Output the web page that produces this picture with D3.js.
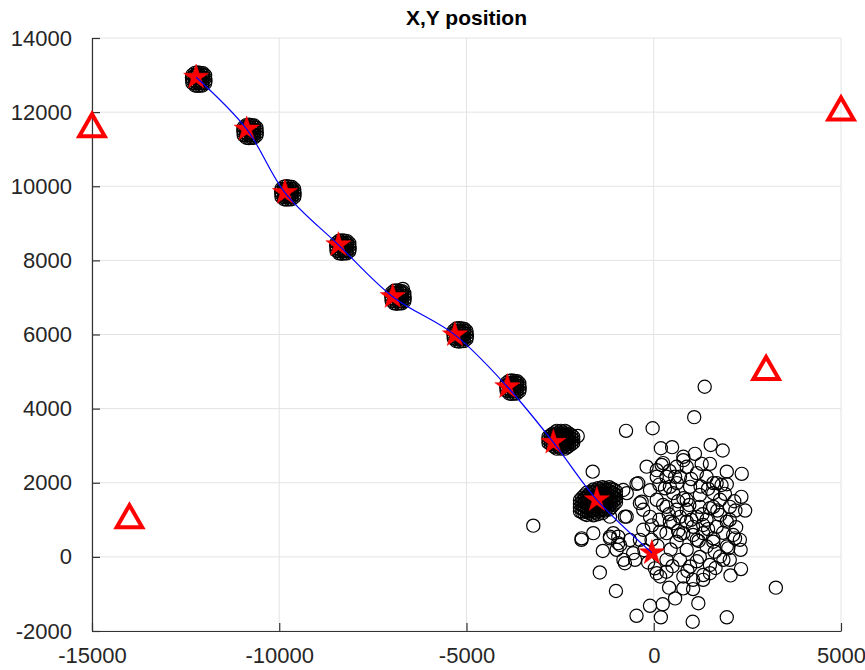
<!DOCTYPE html>
<html>
<head>
<meta charset="utf-8">
<script src="https://cdn.jsdelivr.net/npm/d3@7"></script>
<style>
  body { margin: 0; background: #fff; }
  svg { font-family: "Liberation Sans", Arial, sans-serif; }
</style>
</head>
<body>
<script>
   // DATA
   const title = "X,Y position";
   const xTicks = [-15000, -10000, -5000, 0, 5000];
   const yTicks = [-2000, 0, 2000, 4000, 6000, 8000, 10000, 12000, 14000];

   // red stars (estimated track points)
   const starX = [-12220, -10870, -9850, -8420, -6970, -5310, -3910, -2680, -1520, -50];
   const starY = [12940, 11540, 9830, 8420, 7020, 5990, 4590, 3090, 1540, 110];

   // red triangles (anchors)
   const anchorX = [-15000, -14000, 3000, 5000];
   const anchorY = [11550, 1000, 5000, 12000];

   // black circles, one array per cloud
   const cloud1 = [[-12250,13060],[-12180,13070],[-12110,13060],[-12040,13050],[-12320,13000],[-12250,12990],[-12190,13000],[-12120,12990],[-12050,13000],[-11980,12990],[-12330,12930],[-12260,12920],[-12180,12930],[-12110,12920],[-12040,12930],[-11980,12920],[-12320,12860],[-12250,12850],[-12180,12860],[-12110,12850],[-12050,12860],[-11970,12850],[-12320,12790],[-12260,12780],[-12190,12790],[-12120,12780],[-12050,12790],[-11980,12780],[-12250,12720],[-12180,12710],[-12110,12720],[-12050,12720]];
   const cloud2 = [[-10880,11650],[-10810,11660],[-10740,11650],[-10670,11640],[-10950,11590],[-10880,11580],[-10820,11590],[-10750,11580],[-10680,11590],[-10610,11580],[-10960,11520],[-10890,11510],[-10810,11520],[-10740,11510],[-10670,11520],[-10610,11510],[-10950,11450],[-10880,11440],[-10810,11450],[-10740,11440],[-10680,11450],[-10600,11440],[-10950,11380],[-10890,11370],[-10820,11380],[-10750,11370],[-10680,11380],[-10610,11370],[-10880,11310],[-10810,11300],[-10740,11310],[-10680,11310]];
   const cloud3 = [[-9870,9990],[-9800,10000],[-9730,9990],[-9660,9980],[-9940,9930],[-9870,9920],[-9810,9930],[-9740,9920],[-9670,9930],[-9600,9920],[-9950,9860],[-9880,9850],[-9800,9860],[-9730,9850],[-9660,9860],[-9600,9850],[-9940,9790],[-9870,9780],[-9800,9790],[-9730,9780],[-9670,9790],[-9590,9780],[-9940,9720],[-9880,9710],[-9810,9720],[-9740,9710],[-9670,9720],[-9600,9710],[-9870,9650],[-9800,9640],[-9730,9650],[-9670,9650]];
   const cloud4 = [[-8400,8530],[-8330,8540],[-8260,8530],[-8190,8520],[-8470,8470],[-8400,8460],[-8340,8470],[-8270,8460],[-8200,8470],[-8130,8460],[-8480,8400],[-8410,8390],[-8330,8400],[-8260,8390],[-8190,8400],[-8130,8390],[-8470,8330],[-8400,8320],[-8330,8330],[-8260,8320],[-8200,8330],[-8120,8320],[-8470,8260],[-8410,8250],[-8340,8260],[-8270,8250],[-8200,8260],[-8130,8250],[-8400,8190],[-8330,8180],[-8260,8190],[-8200,8190]];
   const cloud5 = [[-6930,7180],[-6860,7190],[-6790,7180],[-6720,7170],[-7000,7120],[-6930,7110],[-6870,7120],[-6800,7110],[-6730,7120],[-6660,7110],[-7010,7050],[-6940,7040],[-6860,7050],[-6790,7040],[-6720,7050],[-6660,7040],[-7000,6980],[-6930,6970],[-6860,6980],[-6790,6970],[-6730,6980],[-6650,6970],[-7000,6910],[-6940,6900],[-6870,6910],[-6800,6900],[-6730,6910],[-6660,6900],[-6930,6840],[-6860,6830],[-6790,6840],[-6730,6840],[-6700,7230]];
   const cloud6 = [[-5270,6160],[-5200,6170],[-5130,6160],[-5060,6150],[-5340,6100],[-5270,6090],[-5210,6100],[-5140,6090],[-5070,6100],[-5000,6090],[-5350,6030],[-5280,6020],[-5200,6030],[-5130,6020],[-5060,6030],[-5000,6020],[-5340,5960],[-5270,5950],[-5200,5960],[-5130,5950],[-5070,5960],[-4990,5950],[-5340,5890],[-5280,5880],[-5210,5890],[-5140,5880],[-5070,5890],[-5000,5880],[-5270,5820],[-5200,5810],[-5130,5820],[-5070,5820]];
   const cloud7 = [[-3860,4750],[-3790,4760],[-3720,4750],[-3650,4740],[-3930,4690],[-3860,4680],[-3800,4690],[-3730,4680],[-3660,4690],[-3590,4680],[-3940,4620],[-3870,4610],[-3790,4620],[-3720,4610],[-3650,4620],[-3590,4610],[-3930,4550],[-3860,4540],[-3790,4550],[-3720,4540],[-3660,4550],[-3580,4540],[-3930,4480],[-3870,4470],[-3800,4480],[-3730,4470],[-3660,4480],[-3590,4470],[-3860,4410],[-3790,4400],[-3720,4410],[-3660,4410]];
   const cloud8 = [[-2590,3400],[-2480,3400],[-2370,3400],
     [-2700,3320],[-2590,3320],[-2480,3320],[-2370,3320],[-2260,3320],
     [-2810,3240],[-2700,3240],[-2590,3240],[-2480,3240],[-2370,3240],[-2260,3240],[-2150,3240],
     [-2810,3160],[-2700,3160],[-2590,3160],[-2480,3160],[-2370,3160],[-2260,3160],[-2150,3160],
     [-2810,3080],[-2700,3080],[-2590,3080],[-2480,3080],[-2370,3080],[-2260,3080],[-2150,3080],
     [-2700,3000],[-2590,3000],[-2480,3000],[-2370,3000],[-2260,3000],
     [-2590,2920],[-2480,2920],[-2370,2920],
     [-2640,3360],[-2530,3360],[-2420,3360],[-2310,3360],
     [-2750,3280],[-2640,3280],[-2530,3280],[-2420,3280],[-2310,3280],[-2200,3280],
     [-2750,3200],[-2640,3200],[-2530,3200],[-2420,3200],[-2310,3200],[-2200,3200],
     [-2750,3120],[-2640,3120],[-2530,3120],[-2420,3120],[-2310,3120],[-2200,3120],
     [-2750,3040],[-2640,3040],[-2530,3040],[-2420,3040],[-2310,3040],[-2200,3040],
     [-2640,2960],[-2530,2960],[-2420,2960],[-2310,2960],
     [-2030,3260]];
   const cloud9 = [[-1610,1820],[-1490,1850],[-1370,1880],
     [-1850,1660],[-1730,1690],[-1610,1720],[-1490,1750],[-1370,1780],[-1250,1810],[-1130,1840],
     [-1970,1530],[-1850,1560],[-1730,1590],[-1610,1620],[-1490,1650],[-1370,1680],[-1250,1710],[-1130,1740],[-1010,1770],
     [-1970,1430],[-1850,1460],[-1730,1490],[-1610,1520],[-1490,1550],[-1370,1580],[-1250,1610],[-1130,1640],[-1010,1670],
     [-1970,1330],[-1850,1360],[-1730,1390],[-1610,1420],[-1490,1450],[-1370,1480],[-1250,1510],[-1130,1540],[-1010,1570],
     [-1970,1230],[-1850,1260],[-1730,1290],[-1610,1320],[-1490,1350],[-1370,1380],[-1250,1410],[-1130,1440],[-1010,1470],
     [-1850,1160],[-1730,1190],[-1610,1220],[-1490,1250],[-1370,1280],[-1250,1310],[-1130,1340],
     [-1610,1120],[-1490,1150],[-1370,1180],
     [-1790,1730],[-1670,1760],[-1550,1790],[-1430,1820],[-1310,1850],[-1190,1880],
     [-1910,1600],[-1790,1630],[-1670,1660],[-1550,1690],[-1430,1720],[-1310,1750],[-1190,1780],[-1070,1810],
     [-1910,1500],[-1790,1530],[-1670,1560],[-1550,1590],[-1430,1620],[-1310,1650],[-1190,1680],[-1070,1710],
     [-1910,1400],[-1790,1430],[-1670,1460],[-1550,1490],[-1430,1520],[-1310,1550],[-1190,1580],[-1070,1610],
     [-1910,1300],[-1790,1330],[-1670,1360],[-1550,1390],[-1430,1420],[-1310,1450],[-1190,1480],[-1070,1510],
     [-1910,1200],[-1790,1230],[-1670,1260],[-1550,1290],[-1430,1320],[-1310,1350],[-1190,1380],[-1070,1410],
     [-1790,1130],[-1670,1160],[-1550,1190],[-1430,1220],[-1310,1250],[-1190,1280],
     [-1630,2300],[-1925,500],[-1615,640],[-1170,545],[-770,1085],[-414,1986],[-190,2434],[-323,1489],[-948,545],[-635,456],[-3217,842],[-814,1805],[-1169,1085],[-724,1085]];
   const cloud10 = [[1360,4590],[1080,3770],[-740,3400],[-30,3470],[3260,-830],[-1010,-920],[-1440,-420],[-460,-1590],[-100,-1320],[190,-1630],[240,-1280],[570,-1120],[1040,-1750],[1190,-1250],[1950,-1630],[1050,-870],[410,-830],[-1360,160],[2330,-330],[2320,190],
     [2350,2240],[1520,3020],[1840,2870],[190,2930],[490,2960],[-460,1970],[1950,2300],[2340,1620],[2440,1250],[2180,1250],[250,2530],[790,2700],[1100,2780],[1280,2510],[1500,2510],[1680,1990],[1950,1960],[430,1890],[700,2160],[970,1890],
     [1230,1670],[1590,1350],[1770,1130],[2030,1000],[2120,590],[2300,460],[1950,280],[1590,410],[1320,640],[1050,810],[700,1080],[340,1350],[80,1540],[-100,1080],[-280,730],[-60,460],[340,640],[610,410],[880,190],[1230,0],
     [1500,-220],[1320,-490],[970,-260],[700,-80],[340,-80],[80,-440],[170,-530],[-370,460],[-550,100],[-810,-80],[-950,370],[-1080,640],[-720,1720],[-370,1450],[340,2160],[520,1720],[880,1540],[1230,1350],[1590,1720],[1770,1540],
     [2030,1350],[880,1270],[1150,1080],[1410,1000],[1680,810],[1410,280],[1770,10],[2030,-80],[790,-530],[1050,-620],[1320,-620],[1150,2260],[1410,2160],[880,2430],[610,2430],[80,2160],[-100,1800],[-280,1270],[520,910],[790,640],
     [1150,460],[790,-850],[1500,-440],[340,-400],[1860,-80],[1990,230],[1630,140],[2170,500],[-1930,460],[30,-310],[-990,190],[-500,-80],[-770,-170],[-900,320],[-1170,500],[210,2480],[790,2610],[1590,1990],[1810,1940],[570,2160],
     [80,2340],[300,1850],[790,1580],[1950,950],[1500,1310],[610,1270],[250,1400],[430,950],[880,950],[1320,860],[1590,500],[1050,590],[700,590],[170,680],
     [150,1950],[420,2320],[620,1990],[1000,2100],[1250,1900],[1450,1840],[1900,1700],[2150,1500],[1700,1250],[1300,1150],[950,1400],[650,1500],[400,1150],[150,1000],[-50,850],[100,300],[450,200],[650,700],[1000,1000],[1200,430],
     [1450,750],[1850,650],[2200,800],[1650,-300],[1150,-120],[500,-250],[-250,180],[-150,-150],[2050,-500],[900,-380]];

   // D3
   var svg = d3.select("body")
       .append("svg")
       .attr("width", 865)
       .attr("height", 670);

   const margin = {top: 38, right: 24, bottom: 39, left: 92};
   const width = +svg.attr("width") - margin.left - margin.right;
   const height = +svg.attr("height") - margin.top - margin.bottom;

   // create scales
   const xScale = d3.scaleLinear()
       .domain([-15000, 5000])
       .range([0, width]);

   const yScale = d3.scaleLinear()
       .domain([-2000, 14000])
       .range([height, 0]);

   const g = svg.append("g")
       .attr("transform", "translate(" + margin.left + "," + margin.top + ")");

   // grid
   g.append("g").selectAll("line").data(xTicks).enter().append("line")
       .attr("x1", d => xScale(d)).attr("x2", d => xScale(d))
       .attr("y1", 0).attr("y2", height)
       .attr("stroke", "#e3e3e3").attr("stroke-width", 1);
   g.append("g").selectAll("line").data(yTicks).enter().append("line")
       .attr("y1", d => yScale(d)).attr("y2", d => yScale(d))
       .attr("x1", 0).attr("x2", width)
       .attr("stroke", "#e3e3e3").attr("stroke-width", 1);

   // axes, ticks pointing inwards
   const yAxis = g.append("g")
       .call(d3.axisLeft(yScale).tickValues(yTicks).tickSizeInner(-8).tickSizeOuter(0).tickPadding(20).tickFormat(d => d));
   const xAxis = g.append("g")
       .attr("transform", "translate(0," + height + ")")
       .call(d3.axisBottom(xScale).tickValues(xTicks).tickSizeInner(-8).tickSizeOuter(0).tickPadding(16).tickFormat(d => d));
   [xAxis, yAxis].forEach(a => {
       a.select(".domain").attr("stroke", "#333").attr("stroke-width", 1.2);
       a.selectAll(".tick line").attr("stroke", "#333").attr("stroke-width", 1.2);
       a.selectAll(".tick text").attr("fill", "#262626").attr("font-size", 22)
           .attr("font-family", "'Liberation Sans', Arial, sans-serif");
   });

   // circles
   const allClouds = [cloud1, cloud2, cloud3, cloud4, cloud5, cloud6, cloud7, cloud8, cloud9, cloud10];
   const cloudGrp = g.append("g");
   allClouds.forEach(c => {
       cloudGrp.append("g").selectAll("circle").data(c)
           .enter()
           .append("circle")
           .attr("cx", d => xScale(d[0]))
           .attr("cy", d => yScale(d[1]))
           .attr("r", 6.6)
           .attr("fill", "none")
           .attr("stroke", "#000")
           .attr("stroke-width", 1.2);
   });

   // stars
   const stars = starX.map((x, i) => ({x: x, y: starY[i]}));
   g.append("g").selectAll("path").data(stars)
       .enter()
       .append("path")
       .attr("d", d3.symbol().type(d3.symbolStar).size(195))
       .attr("transform", d => "translate(" + xScale(d.x) + "," + yScale(d.y) + ")")
       .attr("fill", "#ff0000")
       .attr("stroke", "#ff0000")
       .attr("stroke-width", 0.5);

   // blue track
   g.append("path")
       .datum(stars)
       .attr("d", d3.line().x(d => xScale(d.x)).y(d => yScale(d.y)).curve(d3.curveCatmullRom.alpha(0.5)))
       .attr("fill", "none")
       .attr("stroke", "#0000ff")
       .attr("stroke-width", 1.2);

   // anchors
   const anchors = anchorX.map((x, i) => ({x: x, y: anchorY[i]}));
   g.append("g").selectAll("path").data(anchors)
       .enter()
       .append("path")
       .attr("d", d3.symbol().type(d3.symbolTriangle).size(280))
       .attr("transform", d => "translate(" + xScale(d.x) + "," + yScale(d.y) + ")")
       .attr("fill", "none")
       .attr("stroke", "#ff0000")
       .attr("stroke-width", 4);

   // title
   svg.append("text")
       .attr("x", margin.left + width / 2)
       .attr("y", 25)
       .attr("text-anchor", "middle")
       .attr("font-weight", "bold")
       .attr("font-size", 21)
       .attr("fill", "#000")
       .text(title);
</script>
</body>
</html>
